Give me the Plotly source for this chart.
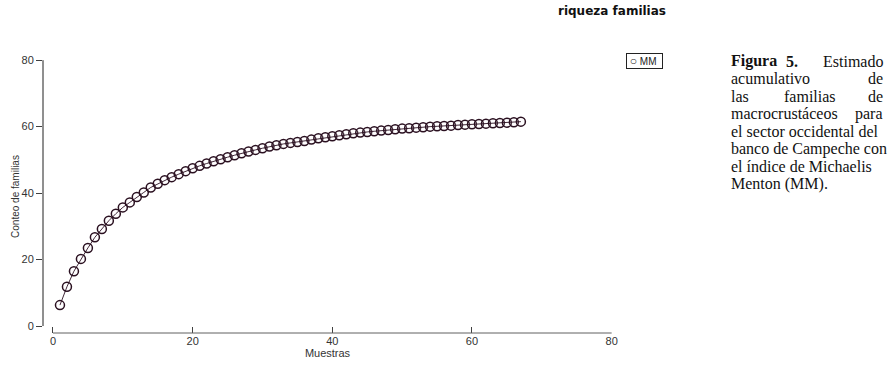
import plotly.graph_objects as go

# ---- data ----
muestras = list(range(1, 68))
mm = [6.3, 11.8, 16.5, 20.2, 23.5, 26.7, 29.2, 31.7, 33.8, 35.7,
      37.2, 38.8, 40.2, 41.7, 42.8, 43.9, 44.8, 45.7, 46.6, 47.5,
      48.2, 48.9, 49.6, 50.2, 50.8, 51.4, 52.0, 52.5, 53.0, 53.5,
      54.0, 54.4, 54.8, 55.1, 55.4, 55.7, 56.1, 56.5, 56.8, 57.1,
      57.4, 57.7, 58.0, 58.2, 58.4, 58.6, 58.8, 59.0, 59.2, 59.4,
      59.5, 59.7, 59.8, 60.0, 60.1, 60.2, 60.3, 60.5, 60.6, 60.7,
      60.8, 60.9, 61.0, 61.1, 61.2, 61.3, 61.5]
x_ticks = [0, 20, 40, 60, 80]
y_ticks = [0, 20, 40, 60, 80]
title = "riqueza familias"
x_title = "Muestras"
y_title = "Conteo de familias"
series_name = "MM"

caption_lines = [
    ["<b>Figura</b>", "<b>5.</b>", "Estimado"],
    ["acumulativo", "de"],
    ["las", "familias", "de"],
    ["macrocrustáceos", "para"],
    ["el sector occidental del"],
    ["banco de Campeche con"],
    ["el índice de Michaelis"],
    ["Menton (MM)."],
]

dark = "#2a1020"
axis_col = "#404040"
W, H = 895, 375
L, R, T, B = 43, 283, 60, 42

fig = go.Figure()
fig.add_trace(go.Scatter(
    x=muestras, y=mm, mode="markers", name=series_name, showlegend=False,
    marker=dict(symbol="circle", size=9, color="rgba(250,240,250,0.15)",
                line=dict(color=dark, width=1.5)),
))
fig.add_trace(go.Scatter(
    x=muestras, y=mm, mode="lines", showlegend=False, hoverinfo="skip",
    line=dict(color=dark, width=0.9),
))

sans = "Liberation Sans, Arial, sans-serif"
tickfont = dict(family=sans, size=11, color="#333333")
fig.update_layout(
    width=W, height=H,
    margin=dict(l=L, r=R, t=T, b=B, autoexpand=False),
    paper_bgcolor="white", plot_bgcolor="white",
    xaxis=dict(range=[-1.43, 80.05], tickvals=x_ticks, ticks="inside", ticklen=6,
               tickcolor=axis_col, tickwidth=1, showgrid=False, zeroline=False,
               showline=False, tickfont=tickfont, automargin=False,
               title=dict(text=x_title, font=dict(family=sans, size=11, color="#333333"), standoff=2)),
    yaxis=dict(range=[-2.1, 80.05], tickvals=y_ticks, ticks="outside", ticklen=6,
               tickcolor=axis_col, tickwidth=1, showgrid=False, zeroline=False,
               showline=False, tickfont=tickfont, automargin=False,
               title=dict(text=y_title, font=dict(family=sans, size=10, color="#333333"), standoff=0)),
    font=dict(family=sans),
)

# detached axis lines
fig.add_shape(type="line", xref="paper", yref="y", x0=0, x1=0, y0=y_ticks[0], y1=y_ticks[-1],
              line=dict(color="#202020", width=1))
fig.add_shape(type="line", xref="x", yref="paper", x0=x_ticks[0], x1=x_ticks[-1], y0=0, y1=0,
              line=dict(color="#606060", width=1))

pw = W - L - R
ph = H - T - B

def px_x(p):
    return (p - L) / pw

def px_y(p):
    return 1 - (p - T) / ph

# title
fig.add_annotation(text="<b>" + title + "</b>", xref="paper", yref="paper",
                   x=px_x(612), y=px_y(11), xanchor="center", yanchor="middle",
                   showarrow=False, font=dict(family="DejaVu Sans, Verdana, sans-serif", size=12, color="#111111"))

# legend box
fig.add_annotation(text="&nbsp;<span style='font-size:12px'>○</span> " + series_name + "&nbsp;&nbsp;",
                   xref="paper", yref="paper",
                   x=px_x(626), y=px_y(61), xanchor="left", yanchor="middle",
                   showarrow=False, bordercolor="#222222", borderwidth=1, borderpad=0,
                   font=dict(family=sans, size=10, color="#222222"))

# caption (justified)
cx0, cx1 = 729, 885
cy0, dy = 61, 17.6
serif = dict(family="Liberation Serif, Times New Roman, serif", size=16, color="#111111")
mid_pos = {0: [792], 2: [810]}
for i, words in enumerate(caption_lines):
    yy = px_y(cy0 + i * dy)
    fig.add_annotation(text=words[0], xref="paper", yref="paper", x=px_x(cx0), y=yy,
                       xanchor="left", yanchor="middle", showarrow=False, font=serif)
    if len(words) == 1:
        continue
    fig.add_annotation(text=words[-1], xref="paper", yref="paper", x=px_x(cx1), y=yy,
                       xanchor="right", yanchor="middle", showarrow=False, font=serif)
    for w, mx in zip(words[1:-1], mid_pos.get(i, [])):
        fig.add_annotation(text=w, xref="paper", yref="paper", x=px_x(mx), y=yy,
                           xanchor="center", yanchor="middle", showarrow=False, font=serif)

fig.write_html("out.html", config={"displayModeBar": False},
               post_script="document.body.style.margin='0px';")
